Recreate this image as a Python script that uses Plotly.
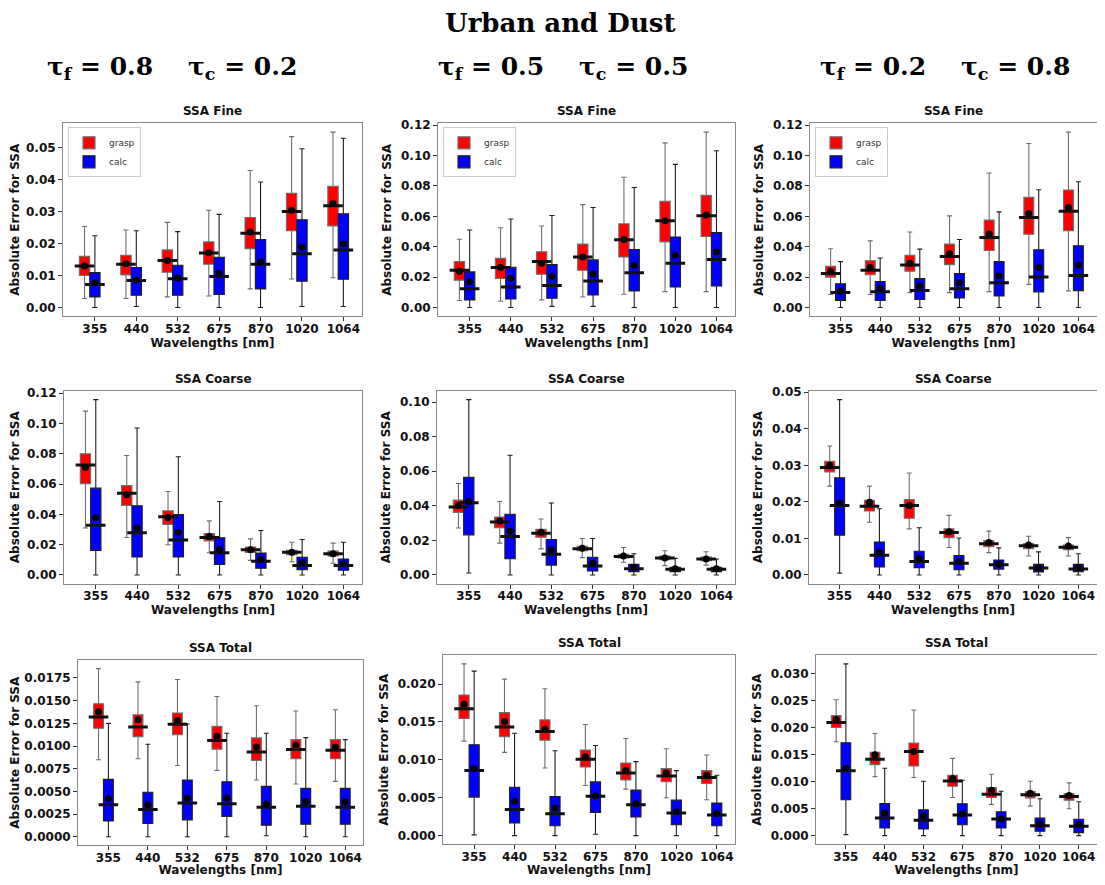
import plotly.graph_objects as go

# ---------------- data ----------------
WAVELENGTHS = ["355", "440", "532", "675", "870", "1020", "1064"]
SERIES = ["grasp", "calc"]
SERIES_FILL = {"grasp": "#ff0000", "calc": "#0000ff"}
SERIES_LINE = {"grasp": "#6e6e6e", "calc": "#1e1e1e"}
ROW_TITLES = ["SSA Fine", "SSA Coarse", "SSA Total"]
COL_TITLES = [
    "τ<sub>f</sub> = 0.8\u00a0\u00a0\u00a0\u00a0τ<sub>c</sub> = 0.2",
    "τ<sub>f</sub> = 0.5\u00a0\u00a0\u00a0\u00a0τ<sub>c</sub> = 0.5",
    "τ<sub>f</sub> = 0.2\u00a0\u00a0\u00a0\u00a0τ<sub>c</sub> = 0.8",
]
SUPTITLE = "Urban and Dust"
X_TITLE = "Wavelengths [nm]"
Y_TITLE = "Absolute Error for SSA"

# each row = one wavelength: [lower whisker, q1, median, q3, upper whisker, mean]
fine_80_grasp = [
    [0.0028, 0.0100, 0.0130, 0.0160, 0.0253, 0.0130],
    [0.0028, 0.0102, 0.0135, 0.0163, 0.0242, 0.0137],
    [0.0033, 0.0110, 0.0147, 0.0180, 0.0266, 0.0147],
    [0.0036, 0.0135, 0.0170, 0.0205, 0.0304, 0.0171],
    [0.0058, 0.0184, 0.0232, 0.0281, 0.0428, 0.0236],
    [0.0089, 0.0240, 0.0300, 0.0357, 0.0534, 0.0304],
    [0.0093, 0.0255, 0.0318, 0.0379, 0.0548, 0.0325],
]
fine_80_calc = [
    [0.0000, 0.0033, 0.0072, 0.0109, 0.0224, 0.0077],
    [0.0003, 0.0038, 0.0084, 0.0125, 0.0240, 0.0085],
    [0.0000, 0.0038, 0.0090, 0.0132, 0.0237, 0.0092],
    [0.0000, 0.0041, 0.0097, 0.0157, 0.0291, 0.0108],
    [0.0000, 0.0058, 0.0135, 0.0212, 0.0392, 0.0142],
    [0.0003, 0.0082, 0.0168, 0.0274, 0.0496, 0.0189],
    [0.0003, 0.0088, 0.0180, 0.0293, 0.0529, 0.0199],
]
fine_50_grasp = [
    [0.0046, 0.0180, 0.0245, 0.0302, 0.0449, 0.0239],
    [0.0041, 0.0191, 0.0263, 0.0323, 0.0525, 0.0263],
    [0.0050, 0.0219, 0.0302, 0.0367, 0.0536, 0.0291],
    [0.0069, 0.0245, 0.0332, 0.0417, 0.0677, 0.0332],
    [0.0087, 0.0332, 0.0445, 0.0551, 0.0857, 0.0447],
    [0.0104, 0.0432, 0.0571, 0.0699, 0.1083, 0.0571],
    [0.0104, 0.0467, 0.0603, 0.0738, 0.1154, 0.0608],
]
fine_50_calc = [
    [0.0000, 0.0050, 0.0124, 0.0234, 0.0510, 0.0169],
    [0.0000, 0.0056, 0.0135, 0.0265, 0.0582, 0.0193],
    [0.0007, 0.0061, 0.0145, 0.0282, 0.0605, 0.0204],
    [0.0007, 0.0082, 0.0174, 0.0313, 0.0658, 0.0221],
    [0.0000, 0.0109, 0.0228, 0.0382, 0.0790, 0.0276],
    [0.0000, 0.0135, 0.0291, 0.0464, 0.0942, 0.0343],
    [0.0000, 0.0141, 0.0315, 0.0493, 0.1031, 0.0367],
]
fine_20_grasp = [
    [0.0085, 0.0200, 0.0224, 0.0271, 0.0386, 0.0239],
    [0.0085, 0.0215, 0.0245, 0.0308, 0.0438, 0.0263],
    [0.0098, 0.0239, 0.0280, 0.0343, 0.0497, 0.0291],
    [0.0098, 0.0282, 0.0336, 0.0417, 0.0603, 0.0354],
    [0.0104, 0.0375, 0.0460, 0.0575, 0.0885, 0.0484],
    [0.0152, 0.0482, 0.0592, 0.0725, 0.1079, 0.0618],
    [0.0109, 0.0506, 0.0634, 0.0773, 0.1154, 0.0658],
]
fine_20_calc = [
    [0.0000, 0.0046, 0.0098, 0.0156, 0.0302, 0.0109],
    [0.0000, 0.0046, 0.0104, 0.0171, 0.0326, 0.0128],
    [0.0000, 0.0052, 0.0111, 0.0191, 0.0384, 0.0141],
    [0.0000, 0.0063, 0.0124, 0.0224, 0.0447, 0.0163],
    [0.0000, 0.0076, 0.0163, 0.0302, 0.0629, 0.0208],
    [0.0000, 0.0102, 0.0200, 0.0380, 0.0775, 0.0263],
    [0.0000, 0.0111, 0.0211, 0.0406, 0.0827, 0.0280],
]
coarse_80_grasp = [
    [0.0310, 0.0603, 0.0726, 0.0800, 0.1082, 0.0710],
    [0.0247, 0.0459, 0.0540, 0.0590, 0.0789, 0.0529],
    [0.0199, 0.0334, 0.0385, 0.0424, 0.0551, 0.0380],
    [0.0146, 0.0225, 0.0247, 0.0273, 0.0357, 0.0254],
    [0.0096, 0.0149, 0.0166, 0.0184, 0.0238, 0.0166],
    [0.0087, 0.0133, 0.0149, 0.0162, 0.0216, 0.0149],
    [0.0077, 0.0125, 0.0140, 0.0157, 0.0210, 0.0140],
]
coarse_80_calc = [
    [0.0000, 0.0162, 0.0328, 0.0573, 0.1158, 0.0380],
    [0.0000, 0.0118, 0.0278, 0.0457, 0.0970, 0.0310],
    [0.0000, 0.0118, 0.0230, 0.0398, 0.0780, 0.0280],
    [0.0000, 0.0070, 0.0146, 0.0245, 0.0485, 0.0168],
    [0.0000, 0.0044, 0.0090, 0.0144, 0.0293, 0.0103],
    [0.0000, 0.0035, 0.0063, 0.0116, 0.0234, 0.0081],
    [0.0000, 0.0031, 0.0063, 0.0105, 0.0216, 0.0074],
]
coarse_50_grasp = [
    [0.0272, 0.0362, 0.0393, 0.0433, 0.0529, 0.0402],
    [0.0184, 0.0274, 0.0307, 0.0335, 0.0425, 0.0312],
    [0.0151, 0.0218, 0.0241, 0.0264, 0.0324, 0.0247],
    [0.0100, 0.0140, 0.0151, 0.0165, 0.0211, 0.0155],
    [0.0073, 0.0098, 0.0107, 0.0119, 0.0159, 0.0109],
    [0.0054, 0.0088, 0.0098, 0.0109, 0.0140, 0.0098],
    [0.0057, 0.0082, 0.0092, 0.0103, 0.0134, 0.0092],
]
coarse_50_calc = [
    [0.0011, 0.0232, 0.0418, 0.0565, 0.1015, 0.0425],
    [0.0000, 0.0094, 0.0222, 0.0351, 0.0693, 0.0253],
    [0.0000, 0.0057, 0.0119, 0.0205, 0.0416, 0.0146],
    [0.0000, 0.0023, 0.0052, 0.0102, 0.0211, 0.0067],
    [0.0000, 0.0019, 0.0036, 0.0061, 0.0123, 0.0044],
    [0.0000, 0.0019, 0.0033, 0.0044, 0.0096, 0.0036],
    [0.0000, 0.0019, 0.0033, 0.0044, 0.0092, 0.0036],
]
coarse_20_grasp = [
    [0.0243, 0.0282, 0.0294, 0.0311, 0.0353, 0.0300],
    [0.0144, 0.0175, 0.0188, 0.0204, 0.0243, 0.0199],
    [0.0126, 0.0155, 0.0190, 0.0206, 0.0279, 0.0190],
    [0.0075, 0.0102, 0.0116, 0.0126, 0.0163, 0.0118],
    [0.0061, 0.0077, 0.0085, 0.0094, 0.0120, 0.0089],
    [0.0052, 0.0072, 0.0080, 0.0086, 0.0106, 0.0082],
    [0.0052, 0.0069, 0.0076, 0.0082, 0.0102, 0.0079],
]
coarse_20_calc = [
    [0.0005, 0.0109, 0.0190, 0.0266, 0.0480, 0.0197],
    [0.0000, 0.0022, 0.0054, 0.0090, 0.0181, 0.0063],
    [0.0000, 0.0020, 0.0037, 0.0065, 0.0129, 0.0045],
    [0.0000, 0.0014, 0.0032, 0.0053, 0.0101, 0.0037],
    [0.0000, 0.0016, 0.0028, 0.0041, 0.0074, 0.0029],
    [0.0000, 0.0008, 0.0019, 0.0029, 0.0063, 0.0019],
    [0.0000, 0.0009, 0.0016, 0.0029, 0.0058, 0.0020],
]
total_80_grasp = [
    [0.00848, 0.01195, 0.01319, 0.01465, 0.01852, 0.01377],
    [0.00859, 0.01103, 0.01209, 0.01344, 0.01706, 0.01290],
    [0.00785, 0.01125, 0.01239, 0.01363, 0.01732, 0.01282],
    [0.00731, 0.00965, 0.01060, 0.01217, 0.01545, 0.01107],
    [0.00625, 0.00840, 0.00935, 0.01089, 0.01443, 0.00990],
    [0.00581, 0.00859, 0.00961, 0.01070, 0.01385, 0.01008],
    [0.00610, 0.00859, 0.00954, 0.01070, 0.01399, 0.00990],
]
total_80_calc = [
    [0.00000, 0.00175, 0.00354, 0.00632, 0.01249, 0.00420],
    [0.00000, 0.00146, 0.00300, 0.00490, 0.01019, 0.00354],
    [0.00000, 0.00186, 0.00373, 0.00625, 0.01242, 0.00427],
    [0.00000, 0.00223, 0.00365, 0.00606, 0.01140, 0.00427],
    [0.00011, 0.00128, 0.00325, 0.00555, 0.01140, 0.00362],
    [0.00000, 0.00139, 0.00336, 0.00533, 0.01092, 0.00391],
    [0.00000, 0.00139, 0.00325, 0.00533, 0.01070, 0.00384],
]
total_50_grasp = [
    [0.01247, 0.01545, 0.01676, 0.01856, 0.02267, 0.01733],
    [0.01098, 0.01304, 0.01435, 0.01624, 0.02066, 0.01505],
    [0.00893, 0.01260, 0.01374, 0.01527, 0.01939, 0.01405],
    [0.00661, 0.00906, 0.01007, 0.01129, 0.01466, 0.01042],
    [0.00613, 0.00735, 0.00827, 0.00958, 0.01282, 0.00858],
    [0.00499, 0.00713, 0.00788, 0.00884, 0.01147, 0.00827],
    [0.00473, 0.00687, 0.00766, 0.00858, 0.01063, 0.00797],
]
total_50_calc = [
    [0.00009, 0.00508, 0.00858, 0.01199, 0.02171, 0.00884],
    [0.00000, 0.00166, 0.00346, 0.00639, 0.01352, 0.00455],
    [0.00000, 0.00131, 0.00289, 0.00516, 0.01120, 0.00363],
    [0.00018, 0.00306, 0.00521, 0.00709, 0.01190, 0.00525],
    [0.00000, 0.00245, 0.00407, 0.00600, 0.00976, 0.00420],
    [0.00000, 0.00144, 0.00298, 0.00468, 0.00858, 0.00315],
    [0.00000, 0.00131, 0.00271, 0.00429, 0.00797, 0.00293],
]
total_20_grasp = [
    [0.01736, 0.02000, 0.02092, 0.02221, 0.02515, 0.02147],
    [0.01092, 0.01313, 0.01411, 0.01540, 0.01890, 0.01497],
    [0.01074, 0.01288, 0.01558, 0.01712, 0.02325, 0.01558],
    [0.00706, 0.00914, 0.01012, 0.01117, 0.01429, 0.01055],
    [0.00577, 0.00706, 0.00767, 0.00890, 0.01135, 0.00840],
    [0.00546, 0.00699, 0.00755, 0.00816, 0.01006, 0.00785],
    [0.00497, 0.00656, 0.00724, 0.00779, 0.00975, 0.00742],
]
total_20_calc = [
    [0.00018, 0.00663, 0.01202, 0.01718, 0.03178, 0.01245],
    [0.00000, 0.00141, 0.00325, 0.00595, 0.01245, 0.00417],
    [0.00000, 0.00123, 0.00282, 0.00479, 0.01006, 0.00368],
    [0.00000, 0.00202, 0.00380, 0.00589, 0.01025, 0.00399],
    [0.00000, 0.00141, 0.00307, 0.00442, 0.00822, 0.00307],
    [0.00000, 0.00080, 0.00184, 0.00325, 0.00681, 0.00221],
    [0.00000, 0.00055, 0.00172, 0.00301, 0.00626, 0.00209],
]

PANELS = [
    [(fine_80_grasp, fine_80_calc), (fine_50_grasp, fine_50_calc), (fine_20_grasp, fine_20_calc)],
    [(coarse_80_grasp, coarse_80_calc), (coarse_50_grasp, coarse_50_calc), (coarse_20_grasp, coarse_20_calc)],
    [(total_80_grasp, total_80_calc), (total_50_grasp, total_50_calc), (total_20_grasp, total_20_calc)],
]
Y_DTICK = [[0.01, 0.02, 0.02], [0.02, 0.02, 0.01], [0.0025, 0.005, 0.005]]
Y_FMT = [[".2f", ".2f", ".2f"], [".2f", ".2f", ".2f"], [".4f", ".3f", ".3f"]]

# ---------------- layout geometry (page pixels) ----------------
PAGE_W, PAGE_H = 1105, 885
OFF = 8  # default body margin of the html page
W, H = PAGE_W - OFF, PAGE_H - 2 * OFF
VISIBLE_RIGHT = 1097
X_DOM = [
    [(63, 362), (438, 735), (810, VISIBLE_RIGHT)],
    [(64, 362), (437, 735), (809, VISIBLE_RIGHT)],
    [(78, 363), (443, 735), (816, VISIBLE_RIGHT)],
]
Y_DOM = [
    [(119, 313), (119, 313), (119, 313)],
    [(388, 582), (388, 582), (388, 582)],
    [(659, 845), (654, 844), (654, 844)],
]
BOX_W = 0.25
OFFSETS = {"grasp": -BOX_W, "calc": 0.0}
X_RANGES = [[-0.77, 6.45], [-0.77, 6.45], [-0.77, 6.47]]
RIGHT_SPINE = [True, True, False]


def px_x(p):
    return min(max((p - OFF) / W, 0.0), 1.0)


def px_y(p):
    return min(max(1 - (p - OFF) / H, 0.0), 1.0)


FONT = "DejaVu Sans"
fig = go.Figure()
layout = dict(
    width=W, height=H,
    margin=dict(l=0, r=0, t=0, b=0),
    paper_bgcolor="white", plot_bgcolor="white",
    boxmode="overlay", showlegend=True,
    font=dict(family=FONT, size=12, color="#111"),
)
annotations = []
bold12 = dict(family=FONT, size=12, weight="bold", color="#111")

for r in range(3):
    for c in range(3):
        k = r * 3 + c + 1
        xa = "x" if k == 1 else f"x{k}"
        ya = "y" if k == 1 else f"y{k}"
        legend_name = None
        if r == 0:
            legend_name = "legend" if c == 0 else f"legend{c + 1}"
        all_hi = []
        all_lo = []
        for s_idx, sname in enumerate(SERIES):
            rows = PANELS[r][c][s_idx]
            xs = [i + OFFSETS[sname] for i in range(len(WAVELENGTHS))]
            lo = [v[0] for v in rows]
            q1 = [v[1] for v in rows]
            med = [v[2] for v in rows]
            q3 = [v[3] for v in rows]
            hi = [v[4] for v in rows]
            mean = [v[5] for v in rows]
            all_hi += hi
            all_lo += lo
            box_kw = dict(
                x=xs, q1=q1, median=med, q3=q3, lowerfence=lo, upperfence=hi,
                width=BOX_W, whiskerwidth=0.5,
                fillcolor=SERIES_FILL[sname],
                line=dict(color=SERIES_LINE[sname], width=1.1),
                boxpoints=False, name=sname, xaxis=xa, yaxis=ya,
                hoverinfo="skip",
                showlegend=legend_name is not None,
            )
            if legend_name is not None:
                box_kw["legend"] = legend_name
            fig.add_trace(go.Box(**box_kw))
            # median bar (thick black, slightly wider than the box)
            fig.add_trace(go.Scatter(
                x=xs, y=med, mode="markers", xaxis=xa, yaxis=ya,
                marker=dict(symbol="line-ew", size=14,
                            line=dict(color="#111", width=3)),
                showlegend=False, hoverinfo="skip",
            ))
            # mean dot
            fig.add_trace(go.Scatter(
                x=xs, y=mean, mode="markers", xaxis=xa, yaxis=ya,
                marker=dict(symbol="circle", size=7, color="#000"),
                showlegend=False, hoverinfo="skip",
            ))
        ymin = min(all_lo)
        ymax = max(all_hi)
        pad = 0.05 * (ymax - ymin)
        x0, x1 = X_DOM[r][c]
        y0, y1 = Y_DOM[r][c]
        layout["xaxis" if k == 1 else f"xaxis{k}"] = dict(
            domain=[px_x(x0), px_x(x1)], anchor=ya, range=X_RANGES[c], type="linear",
            tickmode="array", tickvals=list(range(len(WAVELENGTHS))),
            ticktext=WAVELENGTHS,
            showline=True, mirror=True, linecolor="#8a8a8a", linewidth=1,
            ticks="outside", ticklen=4, tickcolor="#333", tickwidth=1,
            ticklabelstandoff=-3, ticklabeloverflow="allow",
            showgrid=False, zeroline=False,
            tickfont=bold12,
            title=dict(text=X_TITLE, standoff=0, font=bold12),
        )
        layout["yaxis" if k == 1 else f"yaxis{k}"] = dict(
            domain=[px_y(y1), px_y(y0)], anchor=xa, range=[ymin - pad, ymax + pad],
            tick0=0, dtick=Y_DTICK[r][c], tickformat=Y_FMT[r][c],
            showline=True, mirror=RIGHT_SPINE[c], linecolor="#8a8a8a", linewidth=1,
            ticks="outside", ticklen=4, tickcolor="#333", tickwidth=1,
            showgrid=False, zeroline=False,
            tickfont=bold12,
            title=dict(text=Y_TITLE, standoff=6, font=bold12),
        )
        annotations.append(dict(
            text=ROW_TITLES[r], xref="paper", yref="paper",
            x=(px_x(x0) + px_x(x1)) / 2, y=px_y(y0 - 3),
            xanchor="center", yanchor="bottom", showarrow=False,
            font=bold12,
        ))
        if r == 0:
            lname = "legend" if c == 0 else f"legend{c + 1}"
            layout[lname] = dict(
                x=px_x(x0 + 5), y=px_y(y0 + 4), xanchor="left", yanchor="top",
                bgcolor="rgba(255,255,255,0.8)", bordercolor="#cccccc", borderwidth=1,
                font=dict(family=FONT, size=9, color="#333"),
                itemwidth=30, tracegroupgap=0,
            )

# header texts
annotations.append(dict(
    text=SUPTITLE, xref="paper", yref="paper", x=px_x(560), y=px_y(18),
    xanchor="center", yanchor="middle", showarrow=False,
    font=dict(family="DejaVu Serif", size=26, weight="bold", color="#000"),
))
for c, cx in enumerate([172, 563, 945]):
    annotations.append(dict(
        text=COL_TITLES[c], xref="paper", yref="paper", x=px_x(cx), y=px_y(63),
        xanchor="center", yanchor="middle", showarrow=False,
        font=dict(family="DejaVu Serif", size=25, weight="bold", color="#000"),
    ))

layout["annotations"] = annotations
fig.update_layout(**layout)
fig.write_html("out.html")
